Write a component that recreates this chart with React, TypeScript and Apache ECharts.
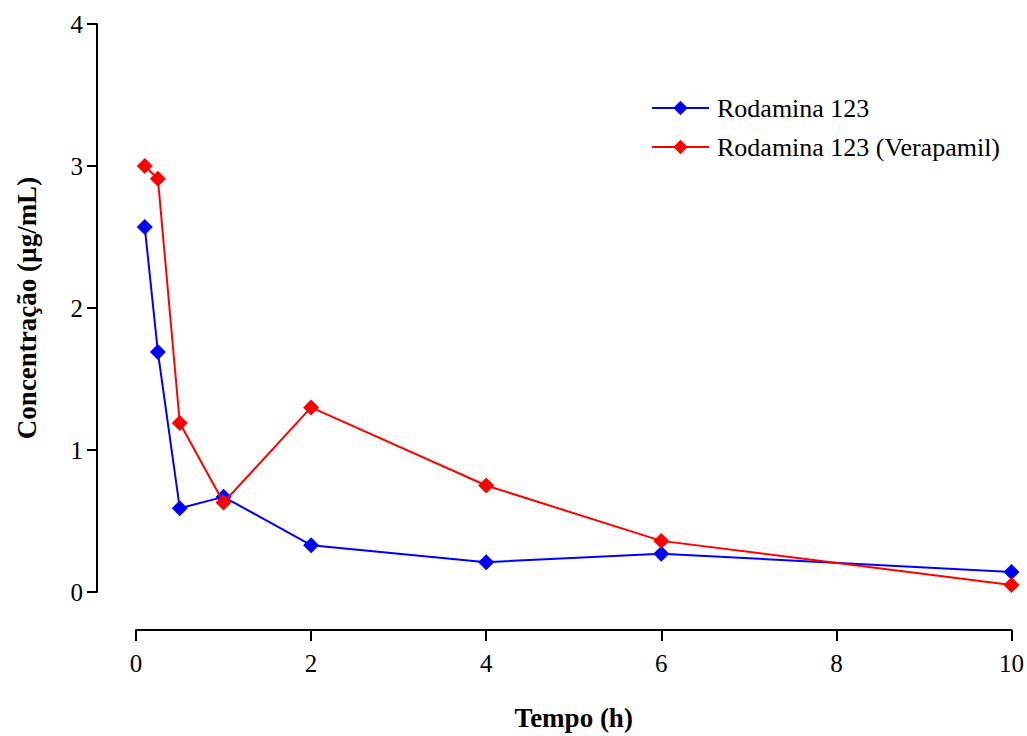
import React, { useEffect, useRef } from "react";
import * as echarts from "echarts";

const times = [0.1, 0.25, 0.5, 1, 2, 4, 6, 10];
const rodamina = [2.57, 1.69, 0.59, 0.67, 0.33, 0.21, 0.27, 0.14];
const rodaminaVerapamil = [3.0, 2.91, 1.19, 0.63, 1.3, 0.75, 0.36, 0.05];
const seriesNames = ["Rodamina 123", "Rodamina 123 (Verapamil)"];
const xTicks = [0, 2, 4, 6, 8, 10];
const yTicks = [0, 1, 2, 3, 4];

const FONT = '"Liberation Serif", "Times New Roman", serif';

export default function App() {
  const ref = useRef<HTMLDivElement>(null);
  useEffect(() => {
    if (!ref.current) return;
    const chart = echarts.init(ref.current, null, { renderer: "svg" });
    const mk = (vals: number[]) => times.map((t, i) => [t, vals[i]]);
    const axisLine = { show: true, onZero: false, lineStyle: { color: "#000", width: 2 } };
    chart.setOption({
      animation: false,
      backgroundColor: "#fff",
      grid: { left: 136, right: 13, top: 24, bottom: 142, containLabel: false },
      legend: {
        orient: "vertical",
        left: 651,
        top: 95,
        padding: 0,
        itemWidth: 57,
        itemHeight: 18,
        itemGap: 13,
        data: seriesNames,
        textStyle: { fontFamily: FONT, fontSize: 26, lineHeight: 26, color: "#000", padding: [0, 0, 0, 3] },
      },
      xAxis: {
        type: "value",
        min: 0,
        max: 10,
        interval: 2,
        offset: 38,
        name: "Tempo (h)",
        nameLocation: "middle",
        nameGap: 74,
        nameTextStyle: { fontFamily: FONT, fontSize: 27, fontWeight: "bold", color: "#000" },
        axisLine,
        axisTick: { show: true, length: 11, inside: false, lineStyle: { color: "#000", width: 2 } },
        axisLabel: {
          fontFamily: FONT,
          fontSize: 25,
          color: "#000",
          margin: 21,
          formatter: (v: number) => (xTicks.includes(v) ? String(v) : ""),
        },
        splitLine: { show: false },
      },
      yAxis: {
        type: "value",
        min: 0,
        max: 4,
        interval: 1,
        offset: 39,
        name: "Concentração (µg/mL)",
        nameLocation: "middle",
        nameRotate: 90,
        nameGap: 57,
        nameTextStyle: { fontFamily: FONT, fontSize: 27, fontWeight: "bold", color: "#000" },
        axisLine,
        axisTick: { show: true, length: 10, inside: false, lineStyle: { color: "#000", width: 2 } },
        axisLabel: {
          fontFamily: FONT,
          fontSize: 25,
          color: "#000",
          margin: 14,
          formatter: (v: number) => (yTicks.includes(v) ? String(v) : ""),
        },
        splitLine: { show: false },
      },
      series: [
        {
          name: seriesNames[0],
          type: "line",
          data: mk(rodamina),
          symbol: "diamond",
          symbolSize: 16,
          color: "#0000FF",
          lineStyle: { color: "#0000FF", width: 2 },
          itemStyle: { color: "#0000FF" },
          z: 3,
        },
        {
          name: seriesNames[1],
          type: "line",
          data: mk(rodaminaVerapamil),
          symbol: "diamond",
          symbolSize: 16,
          color: "#FF0000",
          lineStyle: { color: "#FF0000", width: 2 },
          itemStyle: { color: "#FF0000" },
          z: 4,
        },
      ],
    });
    return () => chart.dispose();
  }, []);
  return <div ref={ref} style={{ width: 1027, height: 736, position: "absolute", left: 0, top: 0 }} />;
}
